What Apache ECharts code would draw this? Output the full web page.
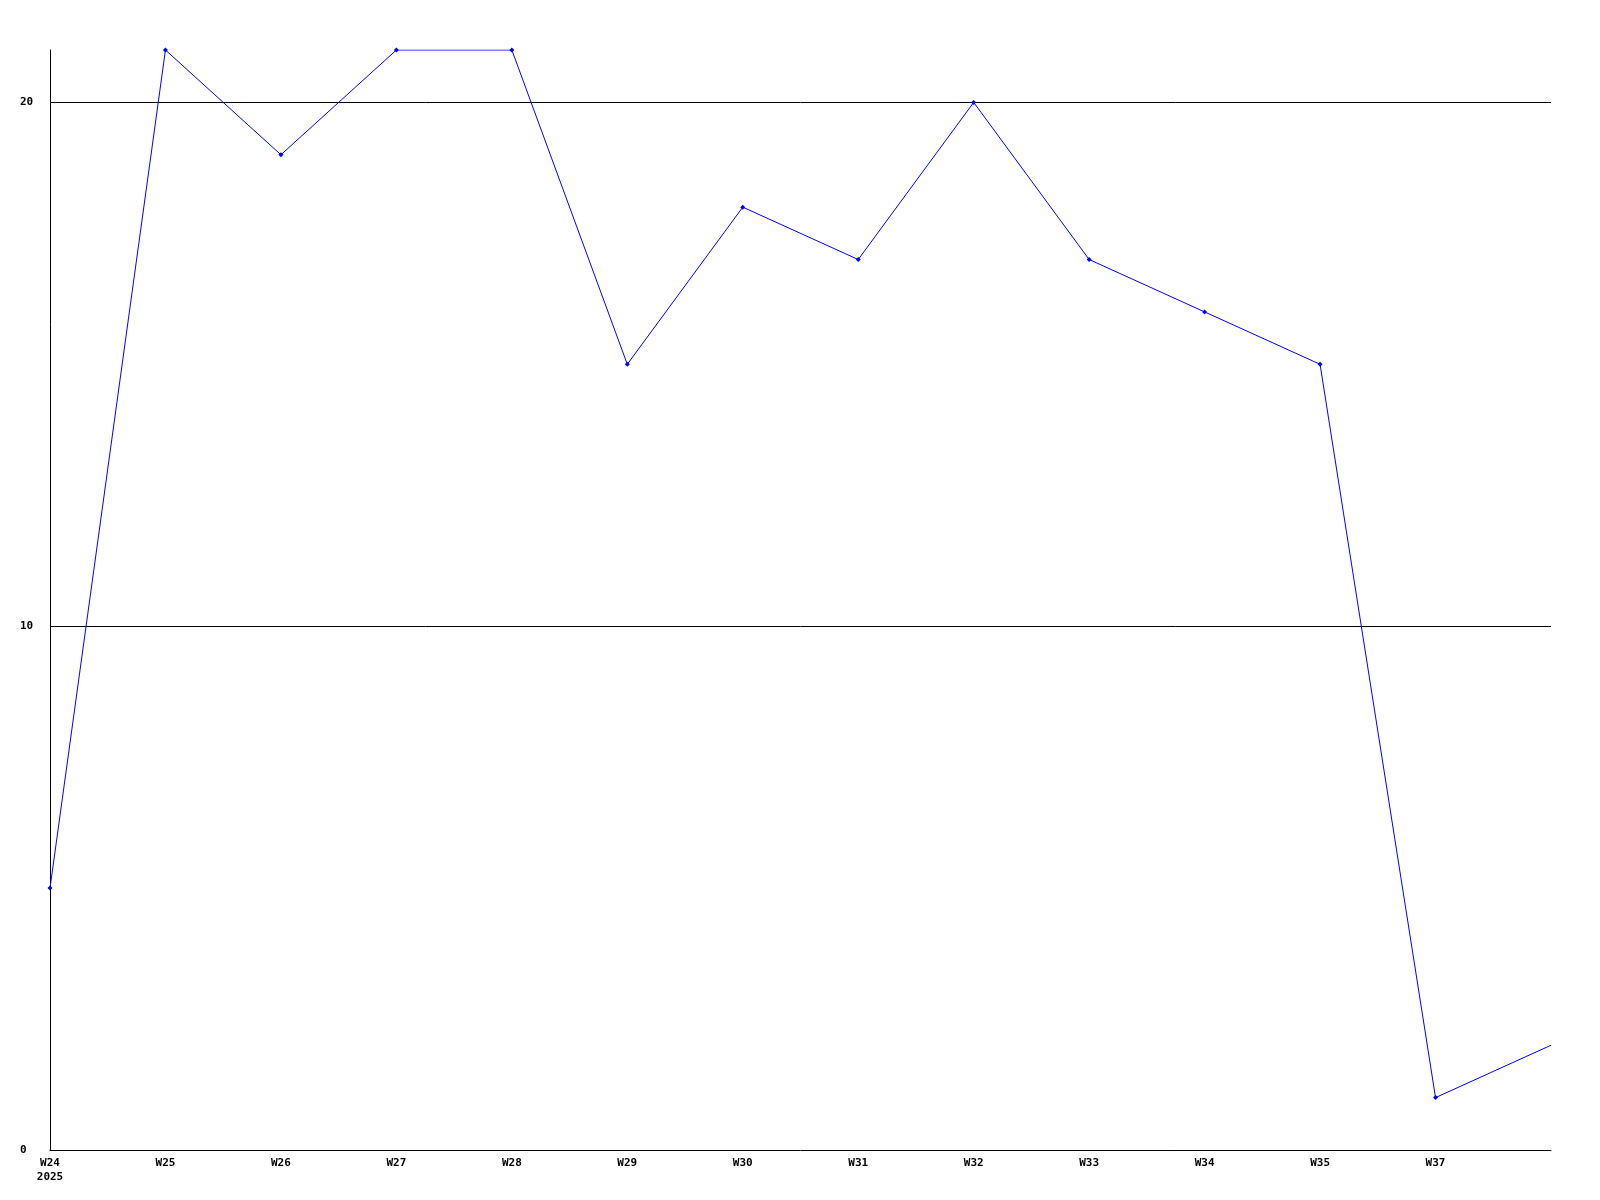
<!DOCTYPE html>
<html>
<head>
<meta charset="utf-8">
<script src="https://cdn.jsdelivr.net/npm/echarts@6/dist/echarts.min.js"></script>
<style>
  html, body { margin: 0; padding: 0; background: #fff; }
  #main { width: 1600px; height: 1200px; }
</style>
</head>
<body>
<div id="main"></div>
<script>
var weeks = ['W24', 'W25', 'W26', 'W27', 'W28', 'W29', 'W30', 'W31', 'W32', 'W33', 'W34', 'W35', 'W37', ''];
var counts = [5, 21, 19, 21, 21, 15, 18, 17, 20, 17, 16, 15, 1, 2];
var yearLabel = '2025';

var myChart = echarts.init(document.getElementById('main'));
var labelFont = {
    color: '#000',
    fontFamily: 'DejaVu Sans Mono',
    fontWeight: 'bold',
    fontSize: 11
};
option = {
    animation: false,
    grid: {
        left: 50,
        right: 49,
        top: 50,
        bottom: 50
    },
    xAxis: {
        type: 'category',
        data: weeks,
        boundaryGap: false,
        axisLine: { lineStyle: { color: '#000', width: 1 } },
        axisTick: { show: false },
        axisLabel: Object.assign({
            margin: 6,
            interval: 0,
            lineHeight: 14,
            formatter: function (v, i) {
                return i === 0 ? v + '\n' + yearLabel : v;
            }
        }, labelFont),
        splitLine: { show: false }
    },
    yAxis: {
        type: 'value',
        min: 0,
        max: 21,
        interval: 10,
        axisLine: { show: true, lineStyle: { color: '#000', width: 1 } },
        axisTick: { show: false },
        axisLabel: Object.assign({
            margin: 30,
            align: 'left',
            showMaxLabel: false
        }, labelFont),
        splitLine: {
            show: true,
            showMinLine: false,
            showMaxLine: false,
            lineStyle: { color: '#000', width: 1 }
        }
    },
    series: [{
        type: 'line',
        data: counts.map(function (v, i) {
            return i === counts.length - 1 ? { value: v, symbol: 'none' } : v;
        }),
        symbol: 'diamond',
        symbolSize: 5,
        showAllSymbol: true,
        lineStyle: { color: '#0000ff', width: 1 },
        itemStyle: { color: '#0000ff' }
    }]
};
myChart.setOption(option);
</script>
</body>
</html>
